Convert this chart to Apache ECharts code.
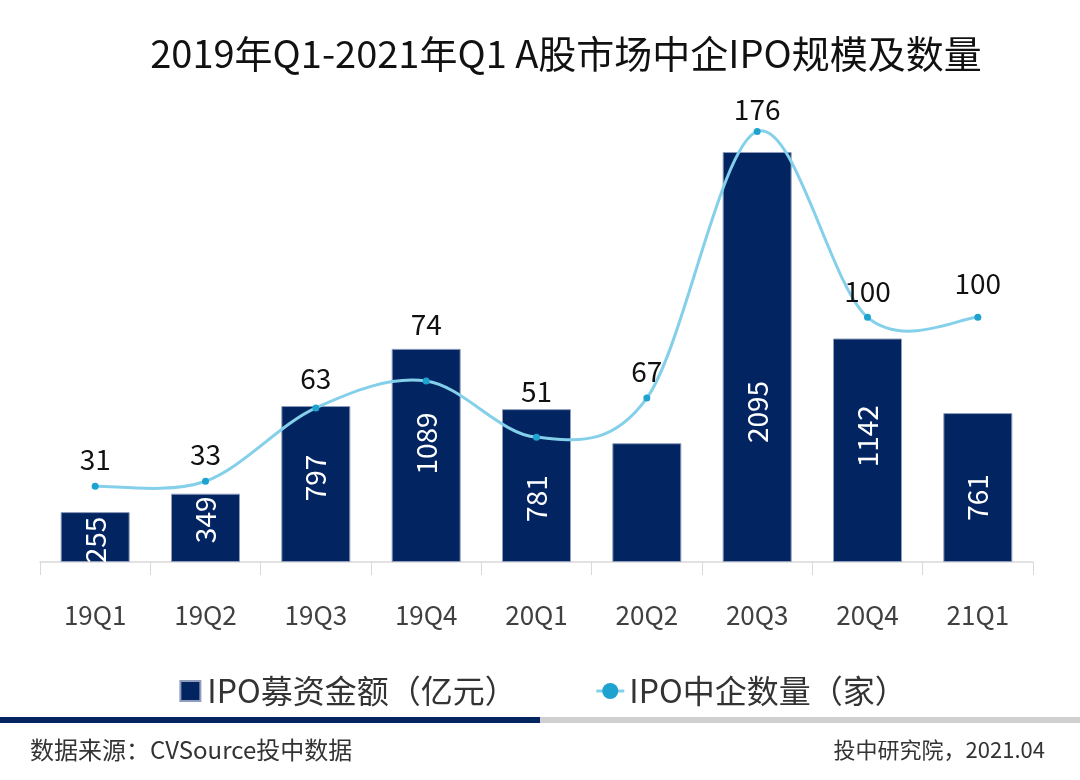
<!DOCTYPE html>
<html><head><meta charset="utf-8">
<script src="https://cdn.jsdelivr.net/npm/echarts@6/dist/echarts.min.js"></script>
<style>html,body{margin:0;padding:0;background:#fff}#c{width:1080px;height:780px}</style>
</head><body><div id="c"></div>
<script>
const categories = ['19Q1','19Q2','19Q3','19Q4','20Q1','20Q2','20Q3','20Q4','21Q1'];
const amounts = [255, 349, 797, 1089, 781, 607, 2095, 1142, 761];
const counts = [31, 33, 63, 74, 51, 67, 176, 100, 100];
const hiddenAmountLabels = ['20Q2'];

// label nudges in pixels, downwards positive (style only, keyed by category)
const barLabelNudge = {'19Q1': 3, '19Q2': -8, '19Q3': -6, '19Q4': -12, '20Q1': 13, '20Q3': 55, '20Q4': -14, '21Q1': 10};
const lineLabelNudge = {'19Q3': -3, '19Q4': -30, '20Q1': -19, '20Q3': 4, '21Q1': -8};

const FONT = '"Noto Sans CJK SC","Noto Sans",sans-serif';
const LINE_COLOR = '#84d0ea';
const chart = echarts.init(document.getElementById('c'));

function splinePath(pts) {
  let d = 'M' + pts[0][0] + ' ' + pts[0][1];
  for (let i = 0; i < pts.length - 1; i++) {
    const p0 = pts[i - 1] || pts[i], p1 = pts[i], p2 = pts[i + 1], p3 = pts[i + 2] || pts[i + 1];
    const c1x = p1[0] + (p2[0] - p0[0]) / 6, c1y = p1[1] + (p2[1] - p0[1]) / 6;
    const c2x = p2[0] - (p3[0] - p1[0]) / 6, c2y = p2[1] - (p3[1] - p1[1]) / 6;
    d += ' C' + c1x + ' ' + c1y + ' ' + c2x + ' ' + c2y + ' ' + p2[0] + ' ' + p2[1];
  }
  return d;
}

chart.setOption({
  backgroundColor: '#fff',
  textStyle: {fontFamily: FONT},
  title: {
    text: '2019年Q1-2021年Q1 A股市场中企IPO规模及数量',
    left: 561, top: 30, textAlign: 'center',
    textStyle: {fontSize: 38, fontWeight: 'normal', color: '#111', fontFamily: FONT}
  },
  legend: {
    top: 670, left: 'center', itemGap: 78, itemWidth: 28, itemHeight: 20,
    textStyle: {fontSize: 32, color: '#333', fontFamily: FONT},
    data: [
      {name: 'IPO募资金额（亿元）', icon: 'path://M0,0M28,20M6,0h20v20h-20z', itemStyle: {color: '#022562'}},
      {name: 'IPO中企数量（家）', lineStyle: {color: LINE_COLOR, width: 3, opacity: 1}}
    ]
  },
  grid: {left: 40, right: 47, top: 92.3, bottom: 218},
  xAxis: {
    type: 'category', data: categories,
    axisLine: {lineStyle: {color: '#d9d9d9', width: 1.5}},
    axisTick: {show: true, length: 13, lineStyle: {color: '#d9d9d9'}},
    axisLabel: {fontSize: 26, color: '#404040', margin: 40, fontFamily: FONT}
  },
  yAxis: [
    {type: 'value', min: 0, max: 2400, show: false, splitLine: {show: false}},
    {type: 'value', min: 0, max: 192, show: false, splitLine: {show: false}}
  ],
  series: [
    {
      name: 'IPO募资金额（亿元）', type: 'bar', yAxisIndex: 0, barWidth: 69,
      itemStyle: {color: '#022562', borderColor: '#8f9cba', borderWidth: 1},
      label: {show: true, position: 'inside', rotate: 90, color: '#fff', fontSize: 28, fontFamily: FONT},
      data: amounts.map((v, i) => {
        const c = categories[i];
        if (hiddenAmountLabels.includes(c)) return {value: v, label: {show: false}};
        // rotated label: local x axis points up on screen
        return {value: v, label: {offset: [-(barLabelNudge[c] || 0), 0]}};
      })
    },
    {
      name: 'IPO中企数量（家）-curve', type: 'custom', yAxisIndex: 1, silent: true, z: 3,
      data: counts.map((v, i) => [i, v]),
      renderItem: function (params, api) {
        if (params.dataIndex !== 0) return null;
        const pts = counts.map((v, i) => api.coord([i, v]));
        return {type: 'path', shape: {pathData: splinePath(pts)},
          style: {fill: 'none', stroke: LINE_COLOR, lineWidth: 3}};
      }
    },
    {
      name: 'IPO中企数量（家）', type: 'line', yAxisIndex: 1, z: 4,
      symbol: 'circle', symbolSize: 7,
      lineStyle: {color: LINE_COLOR, width: 3, opacity: 0},
      itemStyle: {color: '#1ea2cf'},
      label: {show: true, position: 'top', distance: 9, color: '#111', fontSize: 28, fontFamily: FONT},
      data: counts.map((v, i) => ({value: v, label: {offset: [0, lineLabelNudge[categories[i]] || 0]}}))
    }
  ],
  graphic: [
    {type: 'rect', shape: {x: 0, y: 717, width: 540, height: 6}, style: {fill: '#022562'}},
    {type: 'rect', shape: {x: 540, y: 717, width: 540, height: 6}, style: {fill: '#cfcfcf'}},
    {type: 'text', left: 30, top: 738, style: {text: '数据来源：CVSource投中数据', fontSize: 24, fill: '#333', fontFamily: FONT}},
    {type: 'text', right: 35, top: 739, style: {text: '投中研究院，2021.04', fontSize: 22, fill: '#333', fontFamily: FONT}}
  ]
});
</script></body></html>
